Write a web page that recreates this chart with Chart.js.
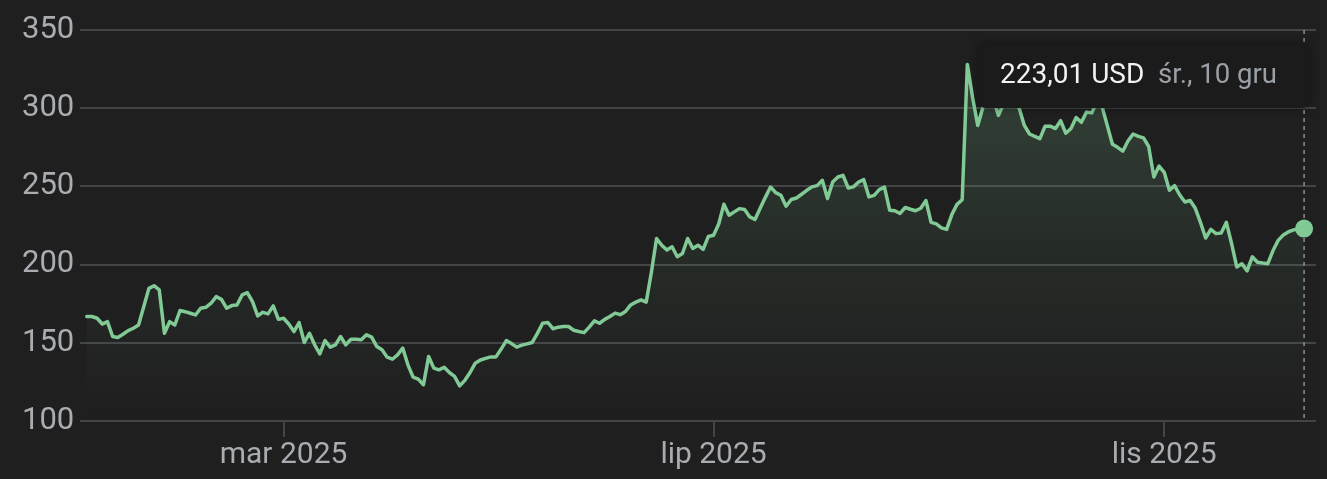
<!DOCTYPE html>
<html>
<head>
<meta charset="utf-8">
<script src="https://cdn.jsdelivr.net/npm/chart.js@4.4.1/dist/chart.umd.min.js"></script>
<style>
  html, body { margin: 0; padding: 0; background: #1f1f1f; }
  #wrap { width: 1327px; height: 479px; }
</style>
</head>
<body>
<div id="wrap"><canvas id="c" width="1327" height="479"></canvas></div>
<script>
// Daily closing prices (trading days)
const prices = [
  166.8,166.8,165.7,162,163.5,154,153.4,155.5,157.8,159.3,
  161.4,173,184.8,186.5,183.8,156.1,163.5,161.4,170.6,169.9,
  168.9,167.8,172.1,172.7,175.3,179.5,177.8,172.1,173.8,174.2,
  180.6,182.1,176.3,167.2,169.5,168.5,173.6,165,165.7,162,
  157.2,162.9,150.2,156.1,148.7,142.9,151.4,147.2,148.7,154,
  148.7,152.3,152.3,151.9,155.1,153.6,147.6,145.5,140.8,139.5,
  142.3,146.6,135.9,128.1,126.8,123.2,141.2,133.8,132.7,134.4,
  131,128.5,122.5,126,131,137,139,140,141,141,
  146,151.4,149.5,147.2,148.5,149.3,150.2,156,162.5,163,
  159,160,160.4,160.4,158,157.2,156.5,160,164,162.5,
  165,166.8,169,168,170,174.2,176,177.4,176,195,
  216.7,212.4,209.3,211.4,205,207.1,216.7,210.3,212.4,209.7,
  218,218.8,226,238.6,231.6,233.7,235.8,235.2,230.5,228.8,
  236,243,249.6,246,244.3,237.3,241.6,242.6,245,247.5,
  249.7,250.5,253.9,242.2,252.8,256,257.1,249,249.7,252.8,
  254.3,243.3,244.3,247.9,249.5,234.8,234.4,232.7,236.5,235.4,
  234.4,236,241,227,226,223.5,222.5,232,238.5,241.5,
  328,307,289,300.6,305,306,295.4,303,306,304,
  300,289,283.5,282,280.5,288.5,288.5,287,292,284,
  287,294,291,297.5,297,304,301,289,277,275,
  272.5,279,283.5,282,281,275.5,256,263,259,247.5,
  250.5,244.5,240,241,236,227,217,222.5,219.8,220.2,
  227,213.5,198.5,200.5,196,205,201.5,201,200.6,209,
  215.5,219,221,222.2,222.8,223.01
];
const tickIndex = [38, 121, 208];
const tickLabels = ['mar 2025', 'lip 2025', 'lis 2025'];
const yTicks = [100, 150, 200, 250, 300, 350];
const lastDateLabel = 'śr., 10 gru';
const currency = 'USD';

const FONT = 'Roboto, "Open Sans", sans-serif';
const GREEN = '#81c995';
const GRID = '#434446';
const LABEL = '#a9acb1';

const points = prices.map((v, i) => ({ x: i, y: v }));
const lastIdx = prices.length - 1;

const overlay = {
  id: 'overlay',
  afterDatasetsDraw(chart) {
    const { ctx, chartArea } = chart;
    const meta = chart.getDatasetMeta(0);
    const pt = meta.data[lastIdx];
    ctx.save();
    ctx.strokeStyle = '#8a8c90';
    ctx.lineWidth = 1.5;
    ctx.setLineDash([4, 4]);
    ctx.beginPath();
    ctx.moveTo(pt.x, chartArea.top);
    ctx.lineTo(pt.x, chartArea.bottom - 3);
    ctx.stroke();
    ctx.restore();
    ctx.save();
    ctx.fillStyle = GREEN;
    ctx.beginPath();
    ctx.arc(pt.x, pt.y, 9, 0, Math.PI * 2);
    ctx.fill();
    ctx.restore();
  },
  afterDraw(chart) {
    const { ctx } = chart;
    const bx = 979, by = 44, bw = 330, bh = 64;
    ctx.save();
    ctx.shadowColor = 'rgba(0,0,0,0.4)';
    ctx.shadowBlur = 10;
    ctx.fillStyle = '#1b1b1b';
    ctx.beginPath();
    ctx.roundRect(bx, by, bw, bh, 6);
    ctx.fill();
    ctx.restore();
    ctx.save();
    const v = prices[lastIdx].toFixed(2).replace('.', ',');
    ctx.textBaseline = 'alphabetic';
    ctx.textAlign = 'left';
    ctx.font = '400 28px ' + FONT;
    ctx.fillStyle = '#f1f2f4';
    ctx.fillText(v + ' ' + currency, 1000, 83);
    ctx.font = '400 27.5px ' + FONT;
    ctx.fillStyle = '#9aa0a6';
    ctx.fillText(lastDateLabel, 1158, 83);
    ctx.restore();
  }
};

new Chart(document.getElementById('c'), {
  type: 'line',
  data: {
    datasets: [{
      data: points,
      borderColor: GREEN,
      borderWidth: 3.5,
      borderJoinStyle: 'round',
      borderCapStyle: 'round',
      tension: 0,
      pointRadius: 0,
      fill: 'start',
      backgroundColor(context) {
        const { chart } = context;
        const a = chart.chartArea;
        if (!a) return 'rgba(129,201,149,0.1)';
        const g = chart.ctx.createLinearGradient(0, a.top, 0, a.bottom);
        g.addColorStop(0, 'rgba(129,201,149,0.24)');
        g.addColorStop(0.55, 'rgba(129,201,149,0.08)');
        g.addColorStop(1, 'rgba(129,201,149,0.0)');
        return g;
      }
    }]
  },
  options: {
    responsive: false,
    animation: false,
    devicePixelRatio: 1,
    layout: { padding: { left: 22, right: 11, top: 30, bottom: 0 } },
    plugins: { legend: { display: false }, tooltip: { enabled: false } },
    scales: {
      x: {
        type: 'linear',
        min: -1.3,
        max: 237.3,
        afterBuildTicks(s) { s.ticks = tickIndex.map(v => ({ value: v })); },
        afterFit(s) { s.height = 58; },
        grid: { drawOnChartArea: false, drawTicks: true, tickLength: 16, color: GRID, lineWidth: 2 },
        border: { display: false },
        ticks: {
          autoSkip: false, maxRotation: 0, padding: 0,
          color: LABEL,
          font: { family: FONT, size: 30 },
          callback(v) { const k = tickIndex.indexOf(v); return k >= 0 ? tickLabels[k] : ''; }
        }
      },
      y: {
        min: 100,
        max: 350,
        afterBuildTicks(s) { s.ticks = yTicks.map(v => ({ value: v })); },
        afterFit(s) { s.width = 58; },
        grid: { color: GRID, lineWidth: 2, drawTicks: false },
        border: { display: false },
        ticks: {
          crossAlign: 'far', padding: 0,
          color: LABEL,
          font: { family: FONT, size: 31 }
        }
      }
    }
  },
  plugins: [overlay]
});
</script>
</body>
</html>
